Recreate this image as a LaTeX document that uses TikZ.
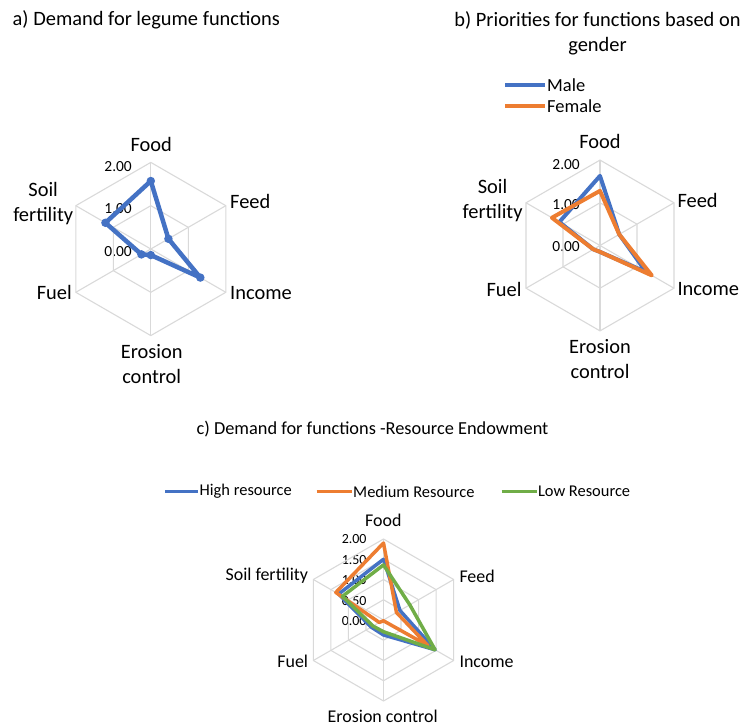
\documentclass[tikz,border=0pt]{standalone}
\usepackage{fontspec}
\setmainfont{Carlito}
\definecolor{xlblue}{HTML}{4472C4}
\definecolor{xlorange}{HTML}{ED7D31}
\definecolor{xlgreen}{HTML}{70AD47}
\definecolor{xlgrid}{HTML}{D9D9D9}
\tikzstyle{web}=[draw=xlgrid, line width=1.1bp]
\tikzstyle{series}=[line width=4bp, line join=round, line cap=round]
\tikzstyle{lab}=[inner sep=0pt, font=\fontsize{20.5}{25}\selectfont]
\tikzstyle{labc}=[inner sep=0pt, font=\fontsize{18}{22}\selectfont]
\tikzstyle{val}=[inner sep=0pt, anchor=east, font=\fontsize{15.5}{18}\selectfont]
\tikzstyle{valc}=[inner sep=0pt, anchor=east, font=\fontsize{14}{17}\selectfont]
\tikzstyle{leg}=[inner sep=0pt, anchor=west, font=\fontsize{18.5}{22}\selectfont]
\tikzstyle{legc}=[inner sep=0pt, anchor=west, font=\fontsize{16.5}{20}\selectfont]
\tikzstyle{dot}=[circle, fill=xlblue, inner sep=0pt, minimum size=8.5bp]

\begin{document}
\begin{tikzpicture}[x=1bp, y=1bp]
\useasboundingbox (0,0) rectangle (747,727);

\node [lab, anchor=west] (titleA) at (12.5,707) {a) Demand for legume functions};
\node [lab, align=center] (titleB) at (597.5,693.5) {b) Priorities for functions based on\\gender};
\node [inner sep=0pt, font=\fontsize{18.4}{22}\selectfont] (titleC) at (372.5,297.7) {c) Demand for functions -Resource Endowment};

\node [lab] (foodA) at (151.3,583) {Food};
\node [lab, anchor=west] (feedA) at (230,525.3) {Feed};
\node [lab, anchor=west] (incomeA) at (230,434.3) {Income};
\node [lab, align=center] (erosionA) at (151.7,363) {Erosion\\control};
\node [lab, anchor=east] (fuelA) at (72,434.3) {Fuel};
\node [lab, align=center, anchor=east] (soilA) at (73.3,523.2) {Soil\\fertility};
\node [val] (twoA) at (132,560) {2.00};
\node [val] (oneA) at (132,518.7) {1.00};
\node [val] (zeroA) at (132,475.3) {0.00};

\begin{scope}[shift={(150.8,478)}, x=43.3bp, y=43.3bp]
\foreach \r in {1,2}
  \draw [web] (90:\r) \foreach \a in {30,-30,-90,-150,150} { -- (\a:\r) } -- cycle;
\foreach \a in {90,30,...,-210}
  \draw [web] (0,0) -- (\a:2);
\foreach \a/\v/\n in {90/1.57/1, 30/0.47/2, -30/1.32/3, -90/0.14/4, -150/0.25/5, 150/1.21/6}
  \coordinate (a\n) at (\a:\v);
\draw [series, xlblue, line width=4.5bp] (a1) -- (a2) -- (a3) -- (a4) -- (a5) -- (a6) -- cycle;
\foreach \n in {1,...,6}
  \node [dot] (dotA\n) at (a\n) {};
\end{scope}

\draw [xlblue, line width=4bp] (505,642) -- (545,642);
\node [leg] (male) at (547,642) {Male};
\draw [xlorange, line width=4bp] (505,621) -- (545,621);
\node [leg] (female) at (547,621) {Female};

\node [lab] (foodB) at (600,585.3) {Food};
\node [lab, anchor=west] (feedB) at (677.3,527) {Feed};
\node [lab, anchor=west] (incomeB) at (677.3,437.7) {Income};
\node [lab, align=center] (erosionB) at (600,368.2) {Erosion\\control};
\node [lab, anchor=east] (fuelB) at (521.7,437.7) {Fuel};
\node [lab, align=center, anchor=east] (soilB) at (522.7,526.5) {Soil\\fertility};
\node [val] (twoB) at (580,562.7) {2.00};
\node [val] (oneB) at (580,522) {1.00};
\node [val] (zeroB) at (580,480.3) {0.00};

\begin{scope}[shift={(600,481.5)}, x=42.7bp, y=42.7bp]
\foreach \r in {1,2}
  \draw [web] (90:\r) \foreach \a in {30,-30,-90,-150,150} { -- (\a:\r) } -- cycle;
\foreach \a in {90,30,...,-210}
  \draw [web] (0,0) -- (\a:2);
\foreach \a/\v/\n in {90/1.63/1, 30/0.52/2, -30/1.25/3, -90/0.15/4, -150/0.18/5, 150/1.1/6}
  \coordinate (m\n) at (\a:\v);
\foreach \a/\v/\n in {90/1.28/1, 30/0.52/2, -30/1.4/3, -90/0.15/4, -150/0.18/5, 150/1.3/6}
  \coordinate (f\n) at (\a:\v);
\draw [series, xlblue] (m1) -- (m2) -- (m3) -- (m4) -- (m5) -- (m6) -- cycle;
\draw [series, xlorange] (f1) -- (f2) -- (f3) -- (f4) -- (f5) -- (f6) -- cycle;
\end{scope}

\draw [xlblue, line width=3bp] (165,235.3) -- (198.3,235.3);
\node [legc] (high) at (199.5,235.3) {High resource};
\draw [xlorange, line width=3bp] (316.7,235.3) -- (351.7,235.3);
\node [legc] (medium) at (353,235.3) {Medium Resource};
\draw [xlgreen, line width=3bp] (501.7,235.3) -- (536.7,235.3);
\node [legc] (low) at (537.8,235.3) {Low Resource};

\node [labc] (foodC) at (383.3,206.3) {Food};
\node [labc, anchor=west] (feedC) at (459.3,151) {Feed};
\node [labc, anchor=west] (incomeC) at (459.3,65.3) {Income};
\node [labc] (erosionC) at (382.7,10.5) {Erosion control};
\node [labc, anchor=east] (fuelC) at (308.3,65.3) {Fuel};
\node [labc, anchor=east] (soilC) at (308.3,151) {Soil fertility};
\node [valc] (twoC) at (366.7,187.7) {2.00};
\node [valc] (oneHalfC) at (366.7,167) {1.50};
\node [valc] (oneC) at (366.7,147) {1.00};
\node [valc] (halfC) at (366.7,126.3) {0.50};
\node [valc] (zeroC) at (366.7,106.3) {0.00};

\begin{scope}[shift={(383.5,107)}, x=40.5bp, y=40.5bp]
\foreach \r in {0.5,1,1.5,2}
  \draw [web] (90:\r) \foreach \a in {30,-30,-90,-150,150} { -- (\a:\r) } -- cycle;
\foreach \a in {90,30,...,-210}
  \draw [web] (0,0) -- (\a:2);
\foreach \a/\v/\n in {90/1.5/1, 30/0.47/2, -30/1.47/3, -90/0.37/4, -150/0.35/5, 150/1.28/6}
  \coordinate (h\n) at (\a:\v);
\foreach \a/\v/\n in {90/1.9/1, 30/0.37/2, -30/1.27/3, -90/0.02/4, -150/0.12/5, 150/1.36/6}
  \coordinate (d\n) at (\a:\v);
\foreach \a/\v/\n in {90/1.36/1, 30/0.75/2, -30/1.47/3, -90/0.29/4, -150/0.3/5, 150/1.17/6}
  \coordinate (l\n) at (\a:\v);
\draw [series, xlblue, line width=3.5bp] (h1) -- (h2) -- (h3) -- (h4) -- (h5) -- (h6) -- cycle;
\draw [series, xlorange, line width=3.5bp] (d1) -- (d2) -- (d3) -- (d4) -- (d5) -- (d6) -- cycle;
\draw [series, xlgreen, line width=3.5bp] (l1) -- (l2) -- (l3) -- (l4) -- (l5) -- (l6) -- cycle;
\end{scope}

\end{tikzpicture}
\end{document}
